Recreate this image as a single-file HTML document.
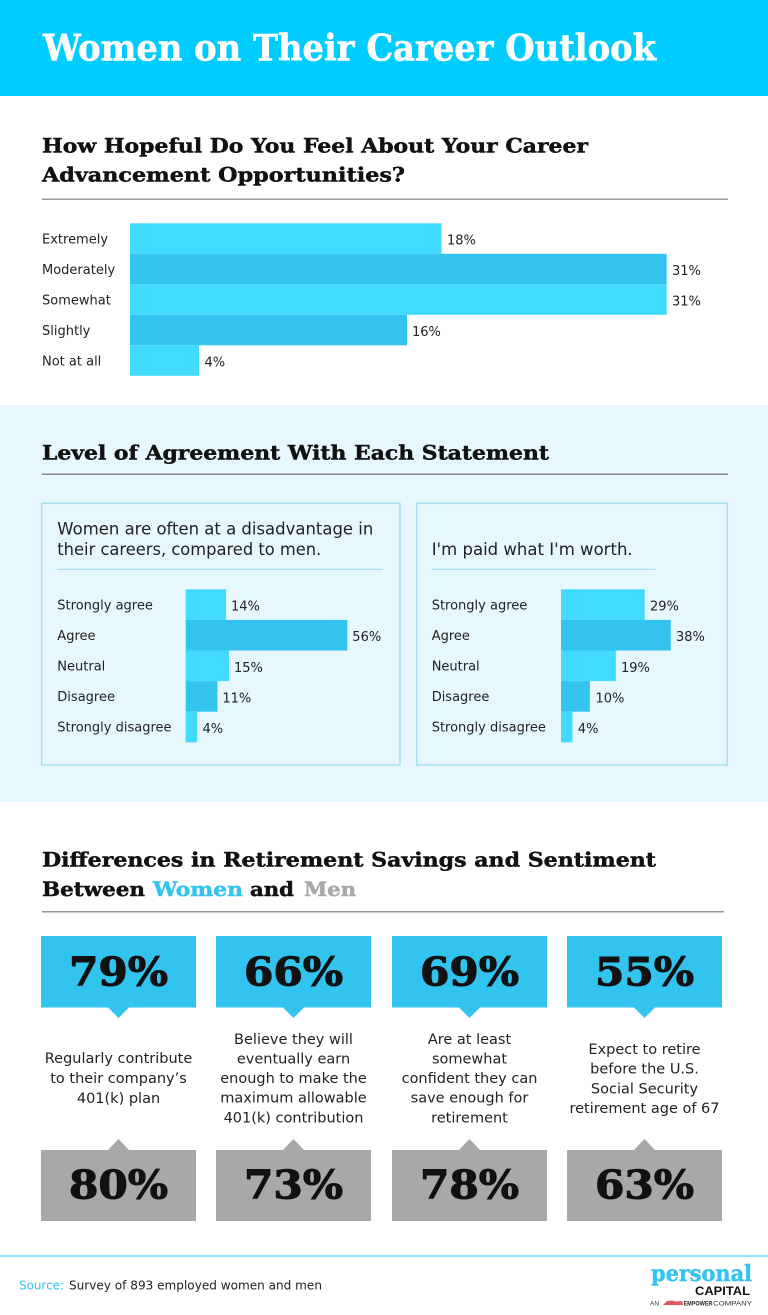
<!DOCTYPE html>
<html><head><meta charset="utf-8"><style>html,body{margin:0;padding:0;background:#fff}svg{display:block}</style></head>
<body>
<svg width="768" height="1315" viewBox="0 0 768 1315" xmlns="http://www.w3.org/2000/svg">
<rect x="0" y="0" width="768" height="1315" fill="#fff"/>
<!-- header -->
<rect x="0" y="0" width="768" height="96" fill="#00CDFE"/>
<text x="43" y="60.5" font-family="DejaVu Serif, Liberation Serif, serif" font-weight="bold" font-size="36" fill="#fff" stroke="#fff" stroke-width="0.6" textLength="613" lengthAdjust="spacingAndGlyphs">Women on Their Career Outlook</text>

<!-- section 1 -->
<g font-family="DejaVu Serif, Liberation Serif, serif" font-weight="bold" font-size="20" fill="#111" stroke="#111" stroke-width="0.45">
<text x="42" y="152.7" textLength="546" lengthAdjust="spacingAndGlyphs">How Hopeful Do You Feel About Your Career</text>
<text x="42" y="181.7" textLength="363" lengthAdjust="spacingAndGlyphs">Advancement Opportunities?</text>
</g>
<rect x="42" y="198.5" width="686" height="1.5" fill="#999"/>
<g>
<rect x="130" y="223.3" width="311.6" height="30.5" fill="#42DBFF"/>
<rect x="130" y="253.8" width="536.7" height="30.5" fill="#33C3EF"/>
<rect x="130" y="284.3" width="536.7" height="30.5" fill="#42DBFF"/>
<rect x="130" y="314.8" width="277" height="30.5" fill="#33C3EF"/>
<rect x="130" y="345.3" width="69" height="30.5" fill="#42DBFF"/>
</g>
<g font-family="DejaVu Sans, Liberation Sans, sans-serif" font-size="13" fill="#222">
<text x="42" y="243.5">Extremely</text>
<text x="42" y="274">Moderately</text>
<text x="42" y="304.5">Somewhat</text>
<text x="42" y="335">Slightly</text>
<text x="42" y="365.5">Not at all</text>
<text x="447" y="244.5">18%</text>
<text x="672" y="275">31%</text>
<text x="672" y="305.5">31%</text>
<text x="412" y="336">16%</text>
<text x="204.5" y="366.5">4%</text>
</g>

<!-- section 2 -->
<rect x="0" y="405" width="768" height="397" fill="#E6F8FD"/>
<text x="42" y="459.5" font-family="DejaVu Serif, Liberation Serif, serif" font-weight="bold" font-size="20" fill="#111" stroke="#111" stroke-width="0.45" textLength="507" lengthAdjust="spacingAndGlyphs">Level of Agreement With Each Statement</text>
<rect x="42" y="473.5" width="686" height="1.5" fill="#888"/>

<rect x="41.7" y="503.3" width="358.3" height="261.7" fill="none" stroke="#A6E1F1" stroke-width="1.5"/>
<rect x="416.7" y="503.3" width="310.6" height="261.7" fill="none" stroke="#A6E1F1" stroke-width="1.5"/>
<g font-family="DejaVu Sans, Liberation Sans, sans-serif" font-size="16.5" fill="#222">
<text x="57.3" y="534.3" textLength="316" lengthAdjust="spacingAndGlyphs">Women are often at a disadvantage in</text>
<text x="57.3" y="555" textLength="264" lengthAdjust="spacingAndGlyphs">their careers, compared to men.</text>
<text x="431.7" y="555" textLength="201" lengthAdjust="spacingAndGlyphs">I'm paid what I'm worth.</text>
</g>
<rect x="57" y="568.8" width="326" height="1" fill="#9FDDEE"/>
<rect x="431.7" y="568.8" width="224" height="1" fill="#9FDDEE"/>

<g>
<rect x="185.7" y="589.3" width="40.4" height="30.6" fill="#42DBFF"/>
<rect x="185.7" y="619.9" width="161.6" height="30.6" fill="#33C3EF"/>
<rect x="185.7" y="650.5" width="43.3" height="30.6" fill="#42DBFF"/>
<rect x="185.7" y="681.1" width="31.7" height="30.6" fill="#33C3EF"/>
<rect x="185.7" y="711.7" width="11.5" height="30.6" fill="#42DBFF"/>
<rect x="561" y="589.3" width="83.7" height="30.6" fill="#42DBFF"/>
<rect x="561" y="619.9" width="109.7" height="30.6" fill="#33C3EF"/>
<rect x="561" y="650.5" width="54.8" height="30.6" fill="#42DBFF"/>
<rect x="561" y="681.1" width="28.9" height="30.6" fill="#33C3EF"/>
<rect x="561" y="711.7" width="11.5" height="30.6" fill="#42DBFF"/>
</g>
<g font-family="DejaVu Sans, Liberation Sans, sans-serif" font-size="13" fill="#222">
<text x="57.3" y="609.3">Strongly agree</text>
<text x="57.3" y="639.9">Agree</text>
<text x="57.3" y="670.5">Neutral</text>
<text x="57.3" y="701.1">Disagree</text>
<text x="57.3" y="731.7">Strongly disagree</text>
<text x="231" y="610.6">14%</text>
<text x="352.3" y="641.2">56%</text>
<text x="234" y="671.8">15%</text>
<text x="222.4" y="702.4">11%</text>
<text x="202.5" y="733">4%</text>
<text x="431.7" y="609.3">Strongly agree</text>
<text x="431.7" y="639.9">Agree</text>
<text x="431.7" y="670.5">Neutral</text>
<text x="431.7" y="701.1">Disagree</text>
<text x="431.7" y="731.7">Strongly disagree</text>
<text x="650" y="610.6">29%</text>
<text x="676" y="641.2">38%</text>
<text x="621" y="671.8">19%</text>
<text x="595.5" y="702.4">10%</text>
<text x="577.8" y="733">4%</text>
</g>

<!-- section 3 -->
<g font-family="DejaVu Serif, Liberation Serif, serif" font-weight="bold" font-size="20" fill="#111" stroke-width="0.45">
<text x="42" y="866.7" stroke="#111" textLength="614" lengthAdjust="spacingAndGlyphs">Differences in Retirement Savings and Sentiment</text>
<text x="42" y="896" stroke="#111" textLength="103" lengthAdjust="spacingAndGlyphs">Between</text>
<text x="153" y="896" textLength="90" lengthAdjust="spacingAndGlyphs" fill="#33C3EF" stroke="#33C3EF">Women</text>
<text x="250" y="896" stroke="#111" textLength="44" lengthAdjust="spacingAndGlyphs">and</text>
<text x="304" y="896" textLength="52" lengthAdjust="spacingAndGlyphs" fill="#A8A8A8" stroke="#A8A8A8">Men</text>
</g>
<rect x="42" y="911" width="682" height="1.5" fill="#999"/>

<g fill="#33C3EF">
<rect x="41" y="936" width="155" height="71.5"/><polygon points="107.5,1007 129.5,1007 118.5,1018"/>
<rect x="216" y="936" width="155" height="71.5"/><polygon points="282.5,1007 304.5,1007 293.5,1018"/>
<rect x="392" y="936" width="155" height="71.5"/><polygon points="458.5,1007 480.5,1007 469.5,1018"/>
<rect x="567" y="936" width="155" height="71.5"/><polygon points="633.5,1007 655.5,1007 644.5,1018"/>
</g>
<g fill="#A8A8A8">
<rect x="41" y="1150" width="155" height="71"/><polygon points="107.5,1150.5 129.5,1150.5 118.5,1139"/>
<rect x="216" y="1150" width="155" height="71"/><polygon points="282.5,1150.5 304.5,1150.5 293.5,1139"/>
<rect x="392" y="1150" width="155" height="71"/><polygon points="458.5,1150.5 480.5,1150.5 469.5,1139"/>
<rect x="567" y="1150" width="155" height="71"/><polygon points="633.5,1150.5 655.5,1150.5 644.5,1139"/>
</g>
<g font-family="DejaVu Serif, Liberation Serif, serif" font-weight="bold" font-size="39" fill="#111" stroke="#111" stroke-width="1" text-anchor="middle">
<text x="118.5" y="985.7" textLength="99" lengthAdjust="spacingAndGlyphs">79%</text>
<text x="293.5" y="985.7" textLength="99" lengthAdjust="spacingAndGlyphs">66%</text>
<text x="469.5" y="985.7" textLength="99" lengthAdjust="spacingAndGlyphs">69%</text>
<text x="644.5" y="985.7" textLength="99" lengthAdjust="spacingAndGlyphs">55%</text>
<text x="118.5" y="1198.3" textLength="99" lengthAdjust="spacingAndGlyphs">80%</text>
<text x="293.5" y="1198.3" textLength="99" lengthAdjust="spacingAndGlyphs">73%</text>
<text x="469.5" y="1198.3" textLength="99" lengthAdjust="spacingAndGlyphs">78%</text>
<text x="644.5" y="1198.3" textLength="99" lengthAdjust="spacingAndGlyphs">63%</text>
</g>
<g font-family="DejaVu Sans, Liberation Sans, sans-serif" font-size="14.5" fill="#222" text-anchor="middle">
<text x="118.5" y="1063">Regularly contribute</text>
<text x="118.5" y="1083">to their company’s</text>
<text x="118.5" y="1103">401(k) plan</text>
<text x="293.5" y="1044">Believe they will</text>
<text x="293.5" y="1063.6">eventually earn</text>
<text x="293.5" y="1083">enough to make the</text>
<text x="293.5" y="1102.7">maximum allowable</text>
<text x="293.5" y="1122.3">401(k) contribution</text>
<text x="469.5" y="1044">Are at least</text>
<text x="469.5" y="1063.6">somewhat</text>
<text x="469.5" y="1083">confident they can</text>
<text x="469.5" y="1102.7">save enough for</text>
<text x="469.5" y="1122.3">retirement</text>
<text x="644.5" y="1054">Expect to retire</text>
<text x="644.5" y="1073.7">before the U.S.</text>
<text x="644.5" y="1093.3">Social Security</text>
<text x="644.5" y="1113">retirement age of 67</text>
</g>

<!-- footer -->
<rect x="0" y="1255" width="768" height="2" fill="#8AE6FF"/>
<g font-family="DejaVu Sans, Liberation Sans, sans-serif" font-size="12.5">
<text x="19" y="1289.5" fill="#33C3EF" textLength="45" lengthAdjust="spacingAndGlyphs">Source:</text>
<text x="69" y="1289.5" fill="#222" textLength="253" lengthAdjust="spacingAndGlyphs">Survey of 893 employed women and men</text>
</g>
<text x="651" y="1281" font-family="DejaVu Serif, Liberation Serif, serif" font-weight="bold" font-size="22" fill="#33C3EF" stroke="#33C3EF" stroke-width="0.4" textLength="101" lengthAdjust="spacingAndGlyphs">personal</text>
<text x="695" y="1295" font-family="Liberation Sans, sans-serif" font-weight="bold" font-size="11.5" fill="#111" textLength="55" lengthAdjust="spacingAndGlyphs">CAPITAL</text>
<text x="650" y="1305.5" font-family="Liberation Sans, sans-serif" font-size="6.5" fill="#333">AN</text>
<path d="M663 1305 L667 1301 L672 1300.5 L676 1301.5 L682 1301 L683 1305 Z" fill="#E4555E"/>
<text x="683.5" y="1305.5" font-family="Liberation Sans, sans-serif" font-weight="bold" font-size="6.5" fill="#222" textLength="29" lengthAdjust="spacingAndGlyphs">EMPOWER</text>
<text x="713" y="1305.5" font-family="Liberation Sans, sans-serif" font-size="6.5" fill="#333" textLength="39" lengthAdjust="spacingAndGlyphs">COMPANY</text>
</svg>
</body></html>
